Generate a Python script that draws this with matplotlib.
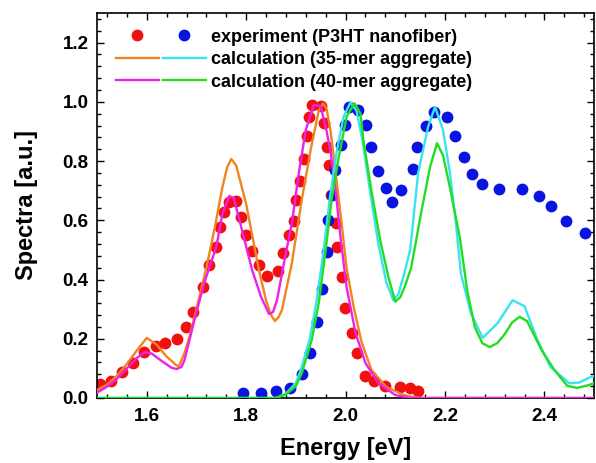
import matplotlib
matplotlib.use("Agg")
import matplotlib.pyplot as plt
from matplotlib.ticker import MultipleLocator, AutoMinorLocator
from matplotlib.legend_handler import HandlerTuple

plt.rcParams["font.family"] = ["Liberation Sans", "DejaVu Sans"]
plt.rcParams["font.weight"] = "bold"

# experiment, red dots
red_x = [1.506, 1.528, 1.550, 1.572, 1.594, 1.618, 1.636, 1.660, 1.678, 1.694,
         1.714, 1.726, 1.740, 1.748, 1.756, 1.766, 1.780, 1.790, 1.800, 1.812,
         1.826, 1.842, 1.864, 1.874, 1.886, 1.896, 1.900, 1.908, 1.916, 1.922,
         1.926, 1.932, 1.950, 1.956, 1.962, 1.966, 1.970, 1.980, 1.982, 1.992,
         1.998, 2.012, 2.024, 2.040, 2.058, 2.080, 2.110, 2.130, 2.146]
red_y = [0.047, 0.057, 0.088, 0.118, 0.155, 0.176, 0.186, 0.199, 0.240, 0.290,
         0.375, 0.449, 0.510, 0.578, 0.628, 0.662, 0.666, 0.611, 0.551, 0.497,
         0.449, 0.412, 0.429, 0.490, 0.551, 0.598, 0.669, 0.733, 0.807, 0.885,
         0.950, 0.990, 0.986, 0.930, 0.848, 0.787, 0.686, 0.591, 0.510, 0.409,
         0.304, 0.220, 0.152, 0.074, 0.057, 0.040, 0.037, 0.034, 0.024]

# experiment, blue dots
blue_x = [1.794, 1.830, 1.860, 1.888, 1.912, 1.928, 1.942, 1.952, 1.962, 1.964,
          1.972, 1.978, 1.990, 1.998, 2.006, 2.026, 2.042, 2.052, 2.066, 2.082,
          2.094, 2.112, 2.136, 2.144, 2.162, 2.178, 2.204, 2.220, 2.238, 2.254,
          2.274, 2.308, 2.354, 2.390, 2.414, 2.444, 2.482]
blue_y = [0.017, 0.017, 0.024, 0.034, 0.081, 0.152, 0.257, 0.368, 0.493, 0.601,
          0.686, 0.770, 0.855, 0.922, 0.983, 0.973, 0.922, 0.848, 0.767, 0.709,
          0.662, 0.703, 0.774, 0.848, 0.919, 0.966, 0.949, 0.885, 0.814, 0.757,
          0.723, 0.706, 0.706, 0.682, 0.649, 0.598, 0.557]

# calculation 35-mer, orange
orange_x = [1.50, 1.52, 1.54, 1.56, 1.58, 1.60, 1.62, 1.64, 1.66, 1.665,
            1.676, 1.686, 1.70, 1.72, 1.736, 1.752, 1.762, 1.77, 1.78, 1.80,
            1.826, 1.84, 1.85, 1.858, 1.866, 1.872, 1.892, 1.912, 1.93, 1.946,
            1.955, 1.962, 1.97, 1.98, 1.992, 2.002, 2.016, 2.032, 2.052, 2.082,
            2.12, 2.15, 2.50]
orange_y = [0.027, 0.045, 0.075, 0.115, 0.160, 0.203, 0.180, 0.140, 0.110, 0.108,
            0.152, 0.206, 0.300, 0.440, 0.568, 0.710, 0.780, 0.807, 0.785, 0.655,
            0.430, 0.330, 0.280, 0.260, 0.275, 0.297, 0.456, 0.670, 0.840, 0.970,
            0.995, 0.975, 0.900, 0.760, 0.590, 0.440, 0.310, 0.190, 0.095, 0.037,
            0.008, 0.0, 0.0]

# calculation 40-mer, magenta
magenta_x = [1.50, 1.52, 1.54, 1.56, 1.58, 1.596, 1.61, 1.63, 1.65, 1.66,
             1.67, 1.676, 1.696, 1.716, 1.74, 1.752, 1.766, 1.775, 1.79, 1.812,
             1.83, 1.846, 1.854, 1.862, 1.88, 1.892, 1.906, 1.92, 1.936, 1.95,
             1.962, 1.97, 1.98, 1.99, 2.002, 2.02, 2.04, 2.066, 2.10, 2.13, 2.50]
magenta_y = [0.018, 0.038, 0.065, 0.100, 0.135, 0.155, 0.150, 0.125, 0.102, 0.098,
             0.105, 0.128, 0.264, 0.390, 0.510, 0.620, 0.682, 0.675, 0.578, 0.432,
             0.341, 0.284, 0.290, 0.330, 0.490, 0.590, 0.760, 0.905, 0.990, 0.985,
             0.900, 0.830, 0.700, 0.540, 0.375, 0.220, 0.118, 0.050, 0.010, 0.0, 0.0]

# calculation 35-mer, cyan
cyan_x = [1.50, 1.86, 1.88, 1.90, 1.91, 1.928, 1.942, 1.956, 1.968, 1.982,
          1.996, 2.01, 2.022, 2.034, 2.05, 2.066, 2.082, 2.096, 2.106, 2.118,
          2.13, 2.146, 2.166, 2.18, 2.196, 2.21, 2.222, 2.232, 2.252, 2.276,
          2.306, 2.336, 2.36, 2.386, 2.412, 2.45, 2.47, 2.492, 2.50]
cyan_y = [0.0, 0.0, 0.015, 0.050, 0.095, 0.200, 0.330, 0.500, 0.670, 0.830,
          0.950, 0.998, 0.970, 0.870, 0.690, 0.520, 0.390, 0.330, 0.350, 0.420,
          0.500, 0.760, 0.915, 0.983, 0.905, 0.760, 0.590, 0.420, 0.287, 0.203,
          0.253, 0.330, 0.310, 0.196, 0.105, 0.050, 0.052, 0.070, 0.075]

# calculation 40-mer, green
green_x = [1.50, 1.86, 1.88, 1.90, 1.912, 1.932, 1.946, 1.96, 1.972, 1.986,
           2.002, 2.018, 2.03, 2.036, 2.052, 2.07, 2.086, 2.10, 2.11, 2.12,
           2.132, 2.152, 2.17, 2.184, 2.196, 2.21, 2.23, 2.245, 2.26, 2.275,
           2.29, 2.305, 2.32, 2.335, 2.35, 2.365, 2.38, 2.395, 2.42, 2.446,
           2.466, 2.49, 2.50]
green_y = [0.0, 0.0, 0.012, 0.040, 0.084, 0.196, 0.320, 0.500, 0.670, 0.810,
           0.950, 0.995, 0.960, 0.870, 0.700, 0.530, 0.410, 0.325, 0.340, 0.380,
           0.440, 0.625, 0.780, 0.860, 0.820, 0.710, 0.540, 0.360, 0.240, 0.185,
           0.172, 0.185, 0.215, 0.255, 0.274, 0.260, 0.210, 0.160, 0.095, 0.041,
           0.034, 0.044, 0.050]

fig = plt.figure(figsize=(5.96, 4.63), dpi=100)
ax = fig.add_axes([0.1628, 0.1404, 0.834, 0.8316])

ms = 8.5
red_pts, = ax.plot(red_x, red_y, "o", color="#f01010", ms=ms, mew=0, zorder=2)
blue_pts, = ax.plot(blue_x, blue_y, "o", color="#0a14e0", ms=ms, mew=0, zorder=2)

lw = 1.7
orange_ln, = ax.plot(orange_x, orange_y, color="#f08420", lw=lw, zorder=3)
magenta_ln, = ax.plot(magenta_x, magenta_y, color="#f020e8", lw=lw, zorder=3)
cyan_ln, = ax.plot(cyan_x, cyan_y, color="#38e4f0", lw=lw, zorder=3)
green_ln, = ax.plot(green_x, green_y, color="#22dd22", lw=lw, zorder=3)

ax.set_xlim(1.5, 2.5)
ax.set_ylim(0, 1.3)
ax.xaxis.set_major_locator(MultipleLocator(0.2))
ax.xaxis.set_minor_locator(AutoMinorLocator(5))
ax.yaxis.set_major_locator(MultipleLocator(0.2))
ax.yaxis.set_minor_locator(AutoMinorLocator(5))
ax.tick_params(which="both", direction="in", top=True, right=True, width=1.0)
ax.tick_params(which="major", length=5)
ax.tick_params(which="minor", length=3)
ax.tick_params(axis="y", labelsize=13.5, pad=6)
ax.tick_params(axis="x", labelsize=13.5, pad=7)
for lab in ax.get_xticklabels() + ax.get_yticklabels():
    lab.set_fontweight("bold")
for s in ax.spines.values():
    s.set_linewidth(1.2)

ax.set_xlabel("Energy [eV]", fontsize=17, fontweight="bold", labelpad=9)
ax.set_ylabel("Spectra [a.u.]", fontsize=17, fontweight="bold", labelpad=18)

ax.legend(
    [(red_pts, blue_pts), (orange_ln, cyan_ln), (magenta_ln, green_ln)],
    ["experiment (P3HT nanofiber)", "calculation (35-mer aggregate)",
     "calculation (40-mer aggregate)"],
    handler_map={tuple: HandlerTuple(ndivide=None, pad=0.25)},
    loc="upper left", bbox_to_anchor=(0.012, 0.992), frameon=False,
    prop={"size": 13, "weight": "bold"}, handlelength=5.0,
    handletextpad=0.3, labelspacing=0.3, borderaxespad=0.2, borderpad=0.5,
)

fig.savefig("out.png", dpi=100, facecolor="white")
